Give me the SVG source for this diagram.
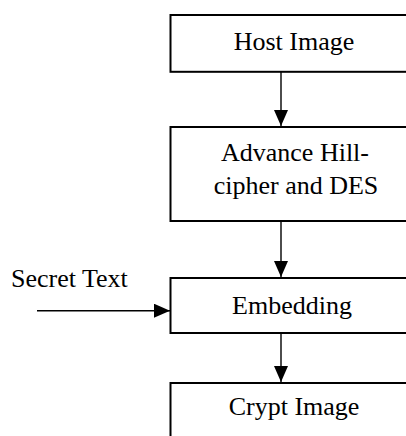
<svg xmlns="http://www.w3.org/2000/svg" width="406" height="436" viewBox="0 0 406 436">
  <style>
    .box { fill: #ffffff; stroke: #000000; stroke-width: 2; }
    .lbl { font-family: "Liberation Serif", "Times New Roman", serif; font-size: 26px; fill: #000000; text-anchor: middle; }
    .side { font-family: "Liberation Serif", "Times New Roman", serif; font-size: 26px; fill: #000000; }
    .flow { stroke: #000000; stroke-width: 1.4; fill: none; marker-end: url(#head); }
  </style>
  <defs>
    <marker id="head" viewBox="0 0 16 14" refX="16" refY="7" markerWidth="16" markerHeight="14" markerUnits="userSpaceOnUse" orient="auto">
      <path d="M0,0 L16,7 L0,14 Z" fill="#000000"/>
    </marker>
  </defs>
  <rect width="406" height="436" fill="#ffffff"/>

  <g id="connectors">
    <line class="flow" x1="281" y1="72" x2="281" y2="126"/>
    <line class="flow" x1="281" y1="222" x2="281" y2="277"/>
    <line class="flow" x1="281" y1="334" x2="281" y2="382"/>
    <line class="flow" x1="37" y1="310.7" x2="170" y2="310.7"/>
  </g>

  <g id="host-image">
    <rect class="box" x="170.5" y="15" width="250" height="56.8"/>
    <text class="lbl" x="294" y="50">Host Image</text>
  </g>

  <g id="cipher">
    <rect class="box" x="170.5" y="127" width="250" height="94"/>
    <text class="lbl" x="295" y="160.5">Advance Hill-</text>
    <text class="lbl" x="296" y="193.5">cipher and DES</text>
  </g>

  <g id="embedding">
    <rect class="box" x="170.5" y="278" width="250" height="55"/>
    <text class="lbl" x="292" y="314">Embedding</text>
  </g>

  <g id="crypt-image">
    <rect class="box" x="170.5" y="383" width="250" height="70"/>
    <text class="lbl" x="294" y="415">Crypt Image</text>
  </g>

  <g id="secret-text">
    <text class="side" x="11" y="287">Secret Text</text>
  </g>
</svg>
